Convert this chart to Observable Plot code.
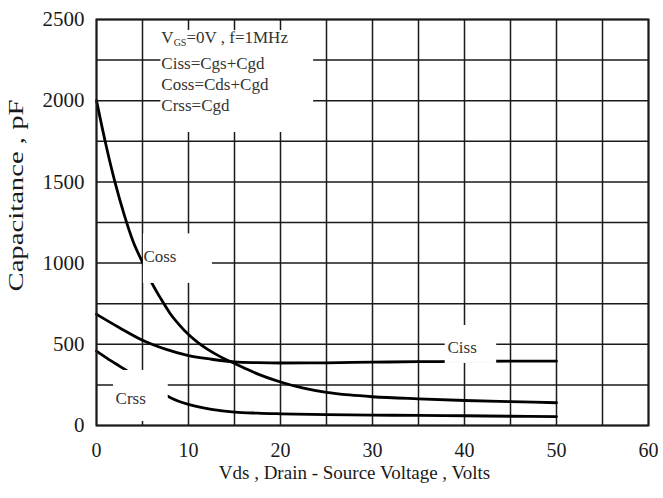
<!DOCTYPE html>
<html><head><meta charset="utf-8">
<script src="https://cdn.jsdelivr.net/npm/d3@7"></script>
<script src="https://cdn.jsdelivr.net/npm/@observablehq/plot@0.6"></script>
<style>html,body{margin:0;padding:0;background:#fff;}</style>
</head><body><div id="chart"></div>
<script>
// ---- axes ----
const xTicks = [0, 10, 20, 30, 40, 50, 60];
const yTicks = [0, 500, 1000, 1500, 2000, 2500];
const xGrid = [0, 5, 10, 15, 20, 25, 30, 35, 40, 45, 50, 55, 60];
const yGrid = [0, 250, 500, 750, 1000, 1250, 1500, 1750, 2000, 2250, 2500];

// ---- series (Vds in volts, capacitance in pF) ----
const cissV  = [0, 2.5, 5, 7.5, 10, 12.5, 15, 17.5, 20, 25, 30, 35, 40, 45, 50];
const cissPF = [685, 602, 525, 470, 430, 408, 392, 387, 385, 386, 390, 393, 395, 396, 396];

const cossV  = [0, 1, 2, 3, 4, 5, 6, 7, 8, 9, 10, 11, 12, 13, 14, 15, 16, 17.5, 20, 22.5, 25, 27.5, 30, 35, 40, 45, 50];
const cossPF = [2000, 1735, 1500, 1300, 1130, 1005, 880, 780, 690, 620, 560, 512, 472, 438, 408, 382, 356, 318, 268, 230, 204, 188, 177, 164, 154, 147, 140];

const crssV  = [0, 1, 2, 3, 4, 5, 6, 7, 8, 9, 10, 12.5, 15, 17.5, 20, 25, 30, 35, 40, 45, 50];
const crssPF = [458, 420, 383, 348, 313, 276, 240, 206, 173, 148, 130, 100, 83, 76, 72, 67, 64, 62, 60, 57, 55];

// ---- annotations ----
const curveLabels = ["Coss", "Ciss", "Crss"];
const curveLabelV = [5.1, 38.15, 2.07];
const curveLabelPF = [1040, 480, 168];
const boxV1 = [7.0, 5.1, 37.9, 1.85];
const boxV2 = [23.6, 12.6, 43.5, 7.8];
const boxPF1 = [1804, 875, 382, 25];
const boxPF2 = [2432, 1180, 616, 339];
const legendLines = ["VGS=0V , f=1MHz", "Ciss=Cgs+Cgd", "Coss=Cds+Cgd", "Crss=Cgd"];
const legendV = 7.05;
const legendPF = 2414;
const xTitle = "Vds , Drain - Source Voltage , Volts";
const yTitle = "Capacitance , pF";

const rows = [
  ...cissV.map((v, i) => ({series: "Ciss", v, c: cissPF[i]})),
  ...cossV.map((v, i) => ({series: "Coss", v, c: cossPF[i]})),
  ...crssV.map((v, i) => ({series: "Crss", v, c: crssPF[i]}))
];
const labels = curveLabels.map((t, i) => ({t, v: curveLabelV[i], c: curveLabelPF[i]}));
const boxes = boxV1.map((v, i) => ({v1: v, v2: boxV2[i], c1: boxPF1[i], c2: boxPF2[i]}));

const ink = "#1a1a1a";
const chart = Plot.plot({
  width: 663,
  height: 498,
  marginLeft: 96,
  marginRight: 15,
  marginTop: 19,
  marginBottom: 73,
  style: {fontFamily: "'Liberation Serif', 'Times New Roman', serif", background: "white", color: ink},
  x: {domain: [0, 60]},
  y: {domain: [0, 2500]},
  marks: [
    Plot.gridX(xGrid, {stroke: ink, strokeOpacity: 1, strokeWidth: 1.5}),
    Plot.gridY(yGrid, {stroke: ink, strokeOpacity: 1, strokeWidth: 1.5}),
    Plot.line(rows, {x: "v", y: "c", z: "series", stroke: "#000", strokeWidth: 2.8, curve: "monotone-x"}),
    Plot.rect(boxes, {x1: "v1", x2: "v2", y1: "c1", y2: "c2", fill: "white"}),
    Plot.frame({stroke: ink, strokeWidth: 2}),
    Plot.text(labels, {x: "v", y: "c", text: "t", textAnchor: "start", fontSize: 17, fill: "#333"}),
    Plot.text([legendLines.join("\n")], {x: () => legendV, y: () => legendPF, textAnchor: "start", lineAnchor: "top", lineHeight: 1.235, fontSize: 17, fill: "#333"}),
    Plot.axisX(xTicks, {tickSize: 0, tickPadding: 17, fontSize: 20, label: null, fill: ink, tickFormat: d3.format("d")}),
    Plot.axisY(yTicks, {tickSize: 0, tickPadding: 12, fontSize: 21, label: null, fill: ink, tickFormat: d3.format("d")}),
    Plot.text([xTitle], {frameAnchor: "bottom", dx: -18, dy: 47, lineAnchor: "middle", fontSize: 19, fill: ink}),
    Plot.text([yTitle], {frameAnchor: "left", rotate: -90, dx: -80, dy: -27, lineAnchor: "middle", fontSize: 20, fill: ink})
  ]
});
document.getElementById("chart").appendChild(chart);

// subscript on V_GS, raise first legend line, stretch the y title like the reference
const NS = "http://www.w3.org/2000/svg";
chart.querySelectorAll("text").forEach(t => {
  const lines = Array.from(t.children).filter(c => c.tagName === "tspan");
  if (lines.length === legendLines.length && lines[0].textContent === legendLines[0]) {
    const first = lines[0];
    first.setAttribute("dy", "-5");
    lines[1].setAttribute("dy", "26");
    first.textContent = "V";
    const sub = document.createElementNS(NS, "tspan");
    sub.setAttribute("font-size", "10");
    sub.setAttribute("dy", "3");
    sub.textContent = "GS";
    const rest = document.createElementNS(NS, "tspan");
    rest.setAttribute("dy", "-3");
    rest.textContent = "=0V , f=1MHz";
    first.appendChild(sub);
    first.appendChild(rest);
  }
  if (t.textContent === yTitle) {
    t.setAttribute("text-anchor", "start");
    t.setAttribute("x", "-96");
    t.setAttribute("textLength", "192");
    t.setAttribute("lengthAdjust", "spacingAndGlyphs");
  }
});
</script>
</body></html>
